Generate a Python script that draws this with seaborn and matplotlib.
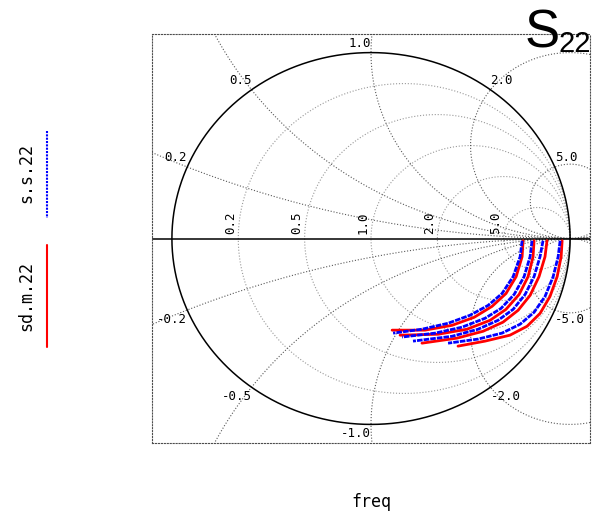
#%%
# Smith chart of S22, measured vs simulated
import numpy as np
import pandas as pd
import matplotlib
matplotlib.use('Agg')
import matplotlib.pyplot as plt
from matplotlib.lines import Line2D
import seaborn as sns

sdm_re = [[0.764, 0.759, 0.729, 0.678, 0.608, 0.518, 0.407, 0.271, 0.106],
          [0.819, 0.814, 0.789, 0.744, 0.678, 0.598, 0.482, 0.337, 0.146],
          [0.884, 0.874, 0.844, 0.799, 0.739, 0.663, 0.563, 0.432, 0.256],
          [0.960, 0.955, 0.935, 0.899, 0.849, 0.784, 0.698, 0.573, 0.437]]
sdm_im = [[-0.012, -0.098, -0.205, -0.296, -0.365, -0.424, -0.467, -0.493, -0.493],
          [-0.012, -0.098, -0.205, -0.301, -0.381, -0.440, -0.488, -0.515, -0.520],
          [-0.012, -0.098, -0.205, -0.306, -0.386, -0.450, -0.499, -0.536, -0.563],
          [-0.012, -0.098, -0.205, -0.312, -0.403, -0.472, -0.520, -0.552, -0.579]]

ss_re = [[0.759, 0.749, 0.714, 0.658, 0.588, 0.497, 0.387, 0.256, 0.111],
         [0.809, 0.799, 0.769, 0.719, 0.653, 0.573, 0.457, 0.322, 0.156],
         [0.864, 0.849, 0.819, 0.774, 0.714, 0.638, 0.538, 0.407, 0.211],
         [0.950, 0.940, 0.915, 0.874, 0.819, 0.749, 0.658, 0.538, 0.387]]
ss_im = [[-0.012, -0.098, -0.205, -0.296, -0.360, -0.413, -0.456, -0.488, -0.509],
         [-0.012, -0.098, -0.205, -0.301, -0.376, -0.429, -0.477, -0.509, -0.530],
         [-0.012, -0.098, -0.205, -0.301, -0.381, -0.440, -0.488, -0.526, -0.552],
         [-0.012, -0.098, -0.205, -0.312, -0.397, -0.461, -0.509, -0.541, -0.563]]

series = ['sd.m.22', 's.s.22']
colors = {'sd.m.22': 'red', 's.s.22': 'blue'}

# smith chart grid values
r_vals = [0.2, 0.5, 1.0, 2.0, 5.0]
x_vals = [0.2, 0.5, 1.0, 2.0, 5.0]

rows = []
for src, re_sets, im_sets in [('sd.m.22', sdm_re, sdm_im), ('s.s.22', ss_re, ss_im)]:
    for k, (xr, xi) in enumerate(zip(re_sets, im_sets)):
        for a, b in zip(xr, xi):
            rows.append({'re': a, 'im': b, 'trace': k, 'source': src})
df = pd.DataFrame(rows)

sns.set_style('white')
plt.rcParams['font.family'] = ['DejaVu Sans Mono']
plt.rcParams['text.color'] = 'black'
plt.rcParams['axes.labelcolor'] = 'black'

fig = plt.figure(figsize=(5.92, 5.14), dpi=100)
ax = fig.add_axes([152/592, 71/514, 438/592, 409/514])

t = np.linspace(0, 2*np.pi, 1441)
# constant resistance circles
for r in r_vals:
    c, rad = r/(1+r), 1/(1+r)
    ax.plot(c + rad*np.cos(t), rad*np.sin(t), ls=':', color='0.6', lw=0.8)
# constant reactance circles
for x in x_vals:
    for s in (1, -1):
        rad = 1/x
        ax.plot(1 + rad*np.cos(t), s*rad + rad*np.sin(t), ls=':', color='0.35', lw=0.8)

ax.plot(np.cos(t), np.sin(t), color='black', lw=1.1)
ax.axhline(0, color='black', lw=1.1)

sns.lineplot(data=df, x='re', y='im', hue='source', hue_order=series, palette=colors,
             units='trace', estimator=None, sort=False, style='source',
             dashes={'sd.m.22': '', 's.s.22': (2, 0.4)}, lw=2.0, legend=False, ax=ax)

# reactance labels around the circle
for x in x_vals:
    for s in (1, -1):
        g = (1j*s*x - 1) / (1j*s*x + 1)
        ha = 'right' if g.real <= 0.01 else 'left'
        va = 'bottom' if s > 0 else 'top'
        ax.annotate(f'{s*x:.1f}', (g.real, g.imag), xytext=(0, 2*s), textcoords='offset points',
                    ha=ha, va=va, fontsize=9)
# resistance labels on the real axis
for r in r_vals:
    g = (r - 1) / (r + 1)
    ax.annotate(f'{r:.1f}', (g, 0), xytext=(-1, 3), textcoords='offset points',
                rotation=90, ha='right', va='bottom', fontsize=9)

ax.set_xlim(-1.1, 1.1)
ax.set_ylim(-1.1, 1.1)
ax.set_xticks([])
ax.set_yticks([])
ax.set_xlabel('freq', fontsize=12, labelpad=36)
ax.set_ylabel('')
for sp in ax.spines.values():
    sp.set_linestyle(':')
    sp.set_color('0.3')
    sp.set_linewidth(0.8)

# legend on the left side
fig.add_artist(Line2D([47/592, 47/592], [1-131/514, 1-218/514], color='blue', lw=1.5,
                      ls=(0, (1, 0.6)), transform=fig.transFigure))
fig.add_artist(Line2D([47/592, 47/592], [1-245/514, 1-347/514], color='red', lw=1.5,
                      transform=fig.transFigure))
fig.text(26/592, 1-173/514, 's.s.22', rotation=90, ha='center', va='center', fontsize=12)
fig.text(26/592, 1-296/514, 'sd.m.22', rotation=90, ha='center', va='center', fontsize=12)

# title
fig.text(525/592, 1-47/514, 'S', fontsize=38, family='Liberation Sans', va='baseline')
fig.text(559/592, 1-52/514, '22', fontsize=21, family='Liberation Sans', va='baseline')

fig.savefig('out.png', dpi=100)
